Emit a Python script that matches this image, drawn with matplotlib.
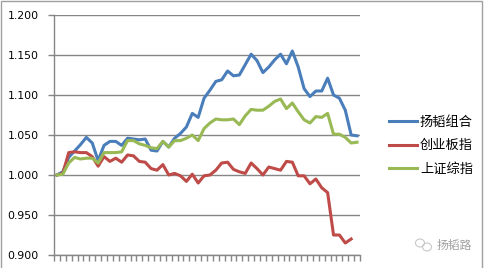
import numpy as np
import matplotlib
matplotlib.use("Agg")
import matplotlib.pyplot as plt
from matplotlib.patches import Rectangle, Ellipse

plt.rcParams['font.family'] = ['Noto Sans CJK SC', 'DejaVu Sans']

# values
yangtao = [1.000, 1.004, 1.022, 1.030, 1.038, 1.047, 1.040, 1.018, 1.037, 1.042,
           1.042, 1.037, 1.046, 1.045, 1.044, 1.045, 1.031, 1.030, 1.042, 1.035,
           1.046, 1.052, 1.060, 1.077, 1.072, 1.096, 1.106, 1.117, 1.119, 1.130,
           1.124, 1.125, 1.138, 1.151, 1.143, 1.128, 1.135, 1.144, 1.151, 1.139,
           1.155, 1.135, 1.108, 1.098, 1.105, 1.105, 1.121, 1.100, 1.096, 1.081,
           1.050, 1.049]
chinext = [1.000, 1.002, 1.028, 1.029, 1.028, 1.028, 1.023, 1.011, 1.023, 1.017,
           1.021, 1.016, 1.025, 1.024, 1.017, 1.016, 1.008, 1.006, 1.013, 1.000,
           1.002, 0.999, 0.992, 1.001, 0.990, 0.999, 1.000, 1.006, 1.015, 1.016,
           1.007, 1.004, 1.002, 1.015, 1.008, 1.000, 1.010, 1.008, 1.006, 1.017,
           1.016, 0.999, 0.999, 0.989, 0.995, 0.984, 0.978, 0.925, 0.925, 0.915,
           0.920]
shanghai = [1.000, 1.001, 1.015, 1.022, 1.020, 1.021, 1.021, 1.015, 1.028, 1.028,
            1.028, 1.029, 1.043, 1.043, 1.039, 1.037, 1.034, 1.033, 1.042, 1.035,
            1.043, 1.043, 1.046, 1.050, 1.043, 1.058, 1.065, 1.070, 1.069, 1.069,
            1.070, 1.063, 1.074, 1.082, 1.081, 1.081, 1.086, 1.092, 1.095, 1.083,
            1.090, 1.079, 1.069, 1.065, 1.073, 1.072, 1.077, 1.051, 1.051, 1.047,
            1.040, 1.041]
labels = ['扬韬组合', '创业板指', '上证综指']
colors = ['#4A7EBB', '#BE4B48', '#98B954']
yticks = [0.9, 0.95, 1.0, 1.05, 1.1, 1.15, 1.2]

fig = plt.figure(figsize=(4.9, 2.68), dpi=100)
ax = fig.add_axes([54 / 490, 13 / 268, 306 / 490, 240 / 268])

for vals, lab, c in zip([yangtao, chinext, shanghai], labels, colors):
    ax.plot(np.arange(len(vals)), vals, color=c, lw=2.2, label=lab,
            solid_joinstyle='round', zorder=3)

ax.set_xlim(-0.5, 51.5)
ax.set_ylim(0.9, 1.2)
ax.set_yticks(yticks)
ax.set_yticklabels(['%.3f' % v for v in yticks], family='DejaVu Sans', fontsize=7.8)
ax.set_xticks(np.arange(53) - 0.5)
ax.set_xticklabels([])
ax.grid(axis='y', color='#868686', lw=1)
ax.tick_params(axis='y', length=4, width=1, color='#868686', pad=7)
ax.tick_params(axis='x', length=4, width=1, color='#868686')
for s in ['top', 'right']:
    ax.spines[s].set_visible(False)
for s in ['left', 'bottom']:
    ax.spines[s].set_color('#868686')
    ax.spines[s].set_linewidth(1)

leg = fig.legend(loc='upper left', bbox_to_anchor=(377 / 490, 1 - 104 / 268),
                 frameon=False, fontsize=9.5, handlelength=2.1,
                 handletextpad=0.25, labelspacing=0.8)

# outer chart border
fig.patches.append(Rectangle((1 / 490, -0.01), 481 / 490, 1.0 - 1 / 268 + 0.01,
                             transform=fig.transFigure, fill=False,
                             edgecolor='#A0A0A0', lw=1))

# watermark
fig.patches.append(Ellipse((420 / 490, 1 - 243 / 268), 9 / 490, 8 / 268,
                           transform=fig.transFigure, fill=False,
                           edgecolor='#C8C8C8', lw=0.8))
fig.patches.append(Ellipse((427 / 490, 1 - 247 / 268), 9 / 490, 8 / 268,
                           transform=fig.transFigure, fill=False,
                           edgecolor='#C8C8C8', lw=0.8))
fig.text(437 / 490, 1 - 245 / 268, '扬韬路', fontsize=8.5, color='#A0A0A0',
         va='center', ha='left')

fig.savefig('out.png', dpi=100)
